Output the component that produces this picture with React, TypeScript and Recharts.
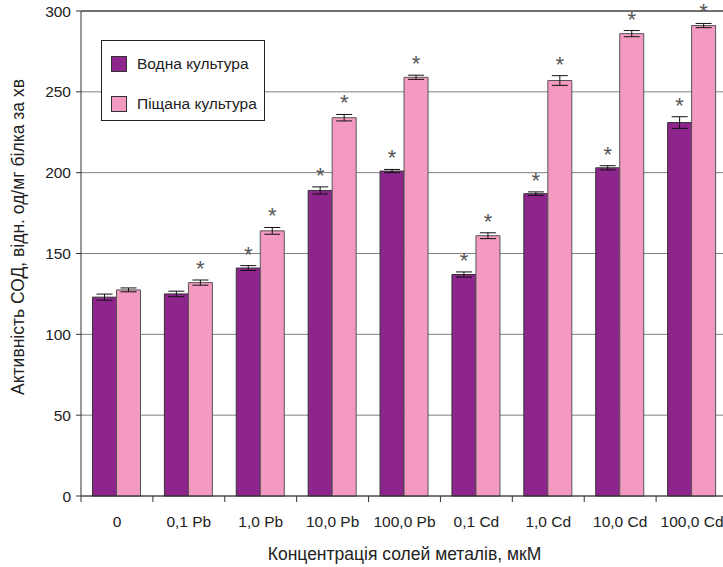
import {
  BarChart,
  Bar,
  XAxis,
  YAxis,
  CartesianGrid,
  ErrorBar,
  LabelList,
  Label,
  ReferenceLine,
} from 'recharts'

const categories = ['0', '0,1 Pb', '1,0 Pb', '10,0 Pb', '100,0 Pb', '0,1 Cd', '1,0 Cd', '10,0 Cd', '100,0 Cd']
const waterValues = [123, 125, 141, 189, 201, 137, 187, 203, 231]
const waterErrors = [1.9, 1.7, 1.5, 2.2, 1, 1.6, 1.1, 1.3, 3.6]
const waterStars = [false, false, true, true, true, true, true, true, true]
const sandValues = [127.5, 132, 164, 234, 259, 161, 257, 286, 291]
const sandErrors = [1.2, 1.6, 2.1, 2, 1.3, 1.8, 3, 1.9, 1.3]
const sandStars = [false, true, true, true, true, true, true, true, true]
const yTicks = [0, 50, 100, 150, 200, 250, 300]

const WATER_COLOR = '#8E258D'
const SAND_COLOR = '#F49AC1'
const FONT = '"Liberation Sans", Arial, sans-serif'
const FS = 15.5
const TITLE_FS = 17.5

const CHART_W = 740
const CHART_H = 567
const Y_AXIS_W = 81
const MARGIN_RIGHT = 12
const BAND = (CHART_W - Y_AXIS_W - MARGIN_RIGHT) / categories.length

const data = categories.map((cat, i) => ({
  cat,
  water: waterValues[i],
  waterErr: waterErrors[i],
  sand: sandValues[i],
  sandErr: sandErrors[i],
}))

function XTick(props: { x?: number; y?: number; payload?: { value: string } }) {
  const { x = 0, y = 0, payload } = props
  const left = x - BAND / 2
  return (
    <g>
      <line x1={left} x2={left} y1={y - 8} y2={y - 2} stroke="#333" strokeWidth={1} />
      <text x={x} y={y + 23} textAnchor="middle" fontSize={FS} fill="#222" fontFamily={FONT}>
        {payload?.value}
      </text>
    </g>
  )
}

function starLabel(stars: boolean[], errors: number[]) {
  return (props: any) => {
    const { x = 0, y = 0, width = 0, height = 0, value, index } = props
    if (!stars[index]) return null
    const pxPerUnit = Number(value) ? Number(height) / Number(value) : 0
    const top = Number(y) - errors[index] * pxPerUnit
    return (
      <text
        x={Number(x) + Number(width) / 2}
        y={top - 4}
        textAnchor="middle"
        fontSize={22}
        fill="#555"
        fontFamily={FONT}
      >
        *
      </text>
    )
  }
}

function LegendBox() {
  const items = [
    { name: 'Водна культура', color: WATER_COLOR },
    { name: 'Піщана культура', color: SAND_COLOR },
  ]
  return (
    <div
      style={{
        position: 'absolute',
        left: 101,
        top: 40,
        width: 162,
        height: 79,
        border: '1px solid #222',
        background: 'white',
        fontFamily: FONT,
        fontSize: FS,
        color: '#222',
      }}
    >
      {items.map((it, i) => (
        <div
          key={it.name}
          style={{ position: 'absolute', left: 9, top: 14 + i * 40, display: 'flex', alignItems: 'center', gap: 10 }}
        >
          <div style={{ width: 14, height: 14, background: it.color, border: '1px solid #333' }} />
          <span>{it.name}</span>
        </div>
      ))}
    </div>
  )
}

export default function App() {
  return (
    <div
      style={{
        position: 'absolute',
        left: 0,
        top: 0,
        width: 723,
        height: 567,
        overflow: 'hidden',
        background: 'white',
        fontFamily: FONT,
      }}
    >
      <BarChart
        width={CHART_W}
        height={CHART_H}
        data={data}
        margin={{ top: 11, right: MARGIN_RIGHT, left: 0, bottom: 0 }}
        barCategoryGap="16%"
        barGap={0}
      >
        <CartesianGrid horizontal vertical={false} stroke="#808080" strokeWidth={1} />
        <XAxis
          dataKey="cat"
          height={71}
          tick={<XTick />}
          tickLine={false}
          axisLine={{ stroke: '#333' }}
          interval={0}
        >
          <Label
            value="Концентрація солей металів, мкМ"
            position="insideBottom"
            offset={7}
            style={{ fontSize: TITLE_FS, fill: '#222', fontFamily: FONT }}
          />
        </XAxis>
        <YAxis
          domain={[0, 300]}
          ticks={yTicks}
          width={Y_AXIS_W}
          tickSize={5}
          tickMargin={5}
          tick={{ fontSize: FS, fill: '#222', fontFamily: FONT }}
          tickLine={{ stroke: '#333' }}
          axisLine={{ stroke: '#333' }}
          interval={0}
        >
          <Label
            content={() => (
              <text
                transform="translate(24,237) rotate(-90)"
                textAnchor="middle"
                fontSize={TITLE_FS}
                fill="#222"
                fontFamily={FONT}
              >
                Активність СОД, відн. од/мг білка за хв
              </text>
            )}
          />
        </YAxis>
        <ReferenceLine y={300} stroke="#222" strokeWidth={1} />
        <Bar dataKey="water" name="Водна культура" fill={WATER_COLOR} stroke="#333" strokeWidth={1} isAnimationActive={false}>
          <ErrorBar dataKey="waterErr" width={8} stroke="#111" strokeWidth={1} />
          <LabelList dataKey="water" content={starLabel(waterStars, waterErrors)} />
        </Bar>
        <Bar dataKey="sand" name="Піщана культура" fill={SAND_COLOR} stroke="#555" strokeWidth={1} isAnimationActive={false}>
          <ErrorBar dataKey="sandErr" width={8} stroke="#111" strokeWidth={1} />
          <LabelList dataKey="sand" content={starLabel(sandStars, sandErrors)} />
        </Bar>
      </BarChart>
      <LegendBox />
    </div>
  )
}
